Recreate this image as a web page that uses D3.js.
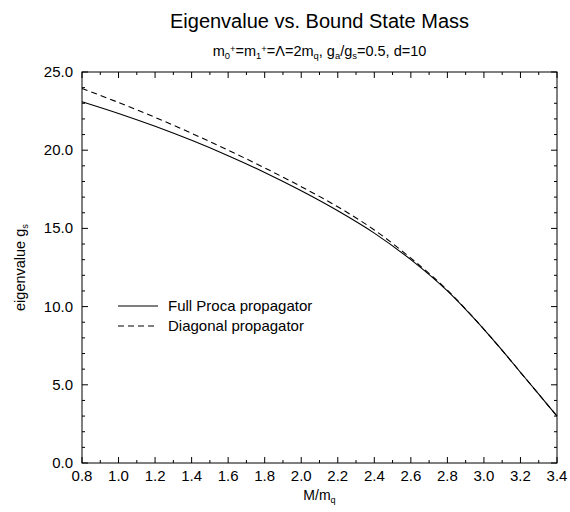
<!DOCTYPE html>
<html>
<head>
<meta charset="utf-8">
<script src="https://cdn.jsdelivr.net/npm/d3@7"></script>
<style>
  body { margin: 0; background: #fff; }
  text { font-family: "Liberation Sans", Arial, sans-serif; fill: #000; }
</style>
</head>
<body>
<div id="chart"></div>
<script>
const massRatio = [0.8, 1.0, 1.2, 1.4, 1.6, 1.8, 2.0, 2.2, 2.4, 2.6, 2.8, 3.0, 3.1, 3.2, 3.3, 3.4];
const fullProca = [23.1, 22.35, 21.53, 20.63, 19.65, 18.58, 17.41, 16.13, 14.7, 13.0, 11.0, 8.55, 7.2, 5.8, 4.4, 3.0];
const diagonal  = [23.95, 23.05, 22.1, 21.08, 20.0, 18.87, 17.67, 16.38, 14.9, 13.1, 11.05, 8.55, 7.2, 5.8, 4.4, 3.0];
const xTicks = [0.8, 1.0, 1.2, 1.4, 1.6, 1.8, 2.0, 2.2, 2.4, 2.6, 2.8, 3.0, 3.2, 3.4];
const yTicks = [0, 5, 10, 15, 20, 25];

const width = 570, height = 512;
const margin = { top: 72, right: 13, bottom: 49, left: 82 };
const innerW = width - margin.left - margin.right;
const innerH = height - margin.top - margin.bottom;

const svg = d3.select("#chart").append("svg").attr("width", width).attr("height", height);
const g = svg.append("g").attr("transform", `translate(${margin.left},${margin.top})`);

const x = d3.scaleLinear().domain([0.8, 3.4]).range([0, innerW]);
const y = d3.scaleLinear().domain([0, 25]).range([innerH, 0]);

const xMinor = d3.range(8, 35).map(d => d / 10);
const yMinor = d3.range(0, 26);

// frame
g.append("rect").attr("width", innerW).attr("height", innerH)
  .attr("fill", "none").attr("stroke", "#000").attr("stroke-width", 1);

const ticks = g.append("g").attr("stroke", "#000").attr("stroke-width", 1);
xMinor.forEach(v => {
  const len = xTicks.some(t => Math.abs(t - v) < 1e-6) ? 6 : 3;
  ticks.append("line").attr("x1", x(v)).attr("x2", x(v)).attr("y1", innerH).attr("y2", innerH - len);
  ticks.append("line").attr("x1", x(v)).attr("x2", x(v)).attr("y1", 0).attr("y2", len);
});
yMinor.forEach(v => {
  const len = v % 5 === 0 ? 6 : 3;
  ticks.append("line").attr("y1", y(v)).attr("y2", y(v)).attr("x1", 0).attr("x2", len);
  ticks.append("line").attr("y1", y(v)).attr("y2", y(v)).attr("x1", innerW).attr("x2", innerW - len);
});

g.selectAll(".xl").data(xTicks).enter().append("text")
  .attr("x", d => x(d)).attr("y", innerH + 18)
  .attr("text-anchor", "middle").attr("font-size", 15)
  .text(d => d3.format(".1f")(d));

g.selectAll(".yl").data(yTicks).enter().append("text")
  .attr("x", -9).attr("y", d => y(d) + 5)
  .attr("text-anchor", "end").attr("font-size", 15)
  .text(d => d3.format(".1f")(d));

// curves
const line = d3.line().x(d => x(d[0])).y(d => y(d[1])).curve(d3.curveCatmullRom.alpha(0.5));
g.append("path").datum(d3.zip(massRatio, fullProca))
  .attr("fill", "none").attr("stroke", "#000").attr("stroke-width", 1.1).attr("d", line);
g.append("path").datum(d3.zip(massRatio, diagonal))
  .attr("fill", "none").attr("stroke", "#000").attr("stroke-width", 1.1)
  .attr("stroke-dasharray", "6,4").attr("d", line);

// legend
const legend = [
  { label: "Full Proca propagator", dash: null },
  { label: "Diagonal propagator", dash: "6,4" }
];
legend.forEach((d, i) => {
  const ly = 234 + i * 20;
  g.append("line").attr("x1", 36).attr("x2", 76).attr("y1", ly).attr("y2", ly)
    .attr("stroke", "#000").attr("stroke-width", 1.1).attr("stroke-dasharray", d.dash);
  g.append("text").attr("x", 86).attr("y", ly + 5).attr("font-size", 15).text(d.label);
});

// titles
const cx = margin.left + innerW / 2;
svg.append("text").attr("x", cx).attr("y", 28).attr("text-anchor", "middle")
  .attr("font-size", 20).text("Eigenvalue vs. Bound State Mass");

function richText(sel, parts, size) {
  parts.forEach(p => {
    const t = sel.append("tspan").text(p.t);
    if (p.s === "sub") t.attr("font-size", size * 0.65).attr("dy", 3);
    else if (p.s === "sup") t.attr("font-size", size * 0.65).attr("dy", -7);
    else t.attr("font-size", size);
    if (p.back) t.attr("dy", p.back);
  });
}

const sub = svg.append("text").attr("x", cx).attr("y", 56).attr("text-anchor", "middle");
richText(sub, [
  { t: "m" }, { t: "0", s: "sub" }, { t: "+", s: "sup" }, { t: "=m", back: 4 },
  { t: "1", s: "sub" }, { t: "+", s: "sup" }, { t: "=\u039B=2m", back: 4 },
  { t: "q", s: "sub" }, { t: ", g", back: -3 }, { t: "a", s: "sub" }, { t: "/g", back: -3 },
  { t: "s", s: "sub" }, { t: "=0.5, d=10", back: -3 }
], 14.5);

const xt = svg.append("text").attr("x", cx).attr("y", 500).attr("text-anchor", "middle");
richText(xt, [{ t: "M/m" }, { t: "q", s: "sub" }], 14);

const yt = svg.append("text").attr("transform", `translate(25,${margin.top + innerH / 2}) rotate(-90)`)
  .attr("text-anchor", "middle");
richText(yt, [{ t: "eigenvalue g" }, { t: "s", s: "sub" }], 14.5);
</script>
</body>
</html>
